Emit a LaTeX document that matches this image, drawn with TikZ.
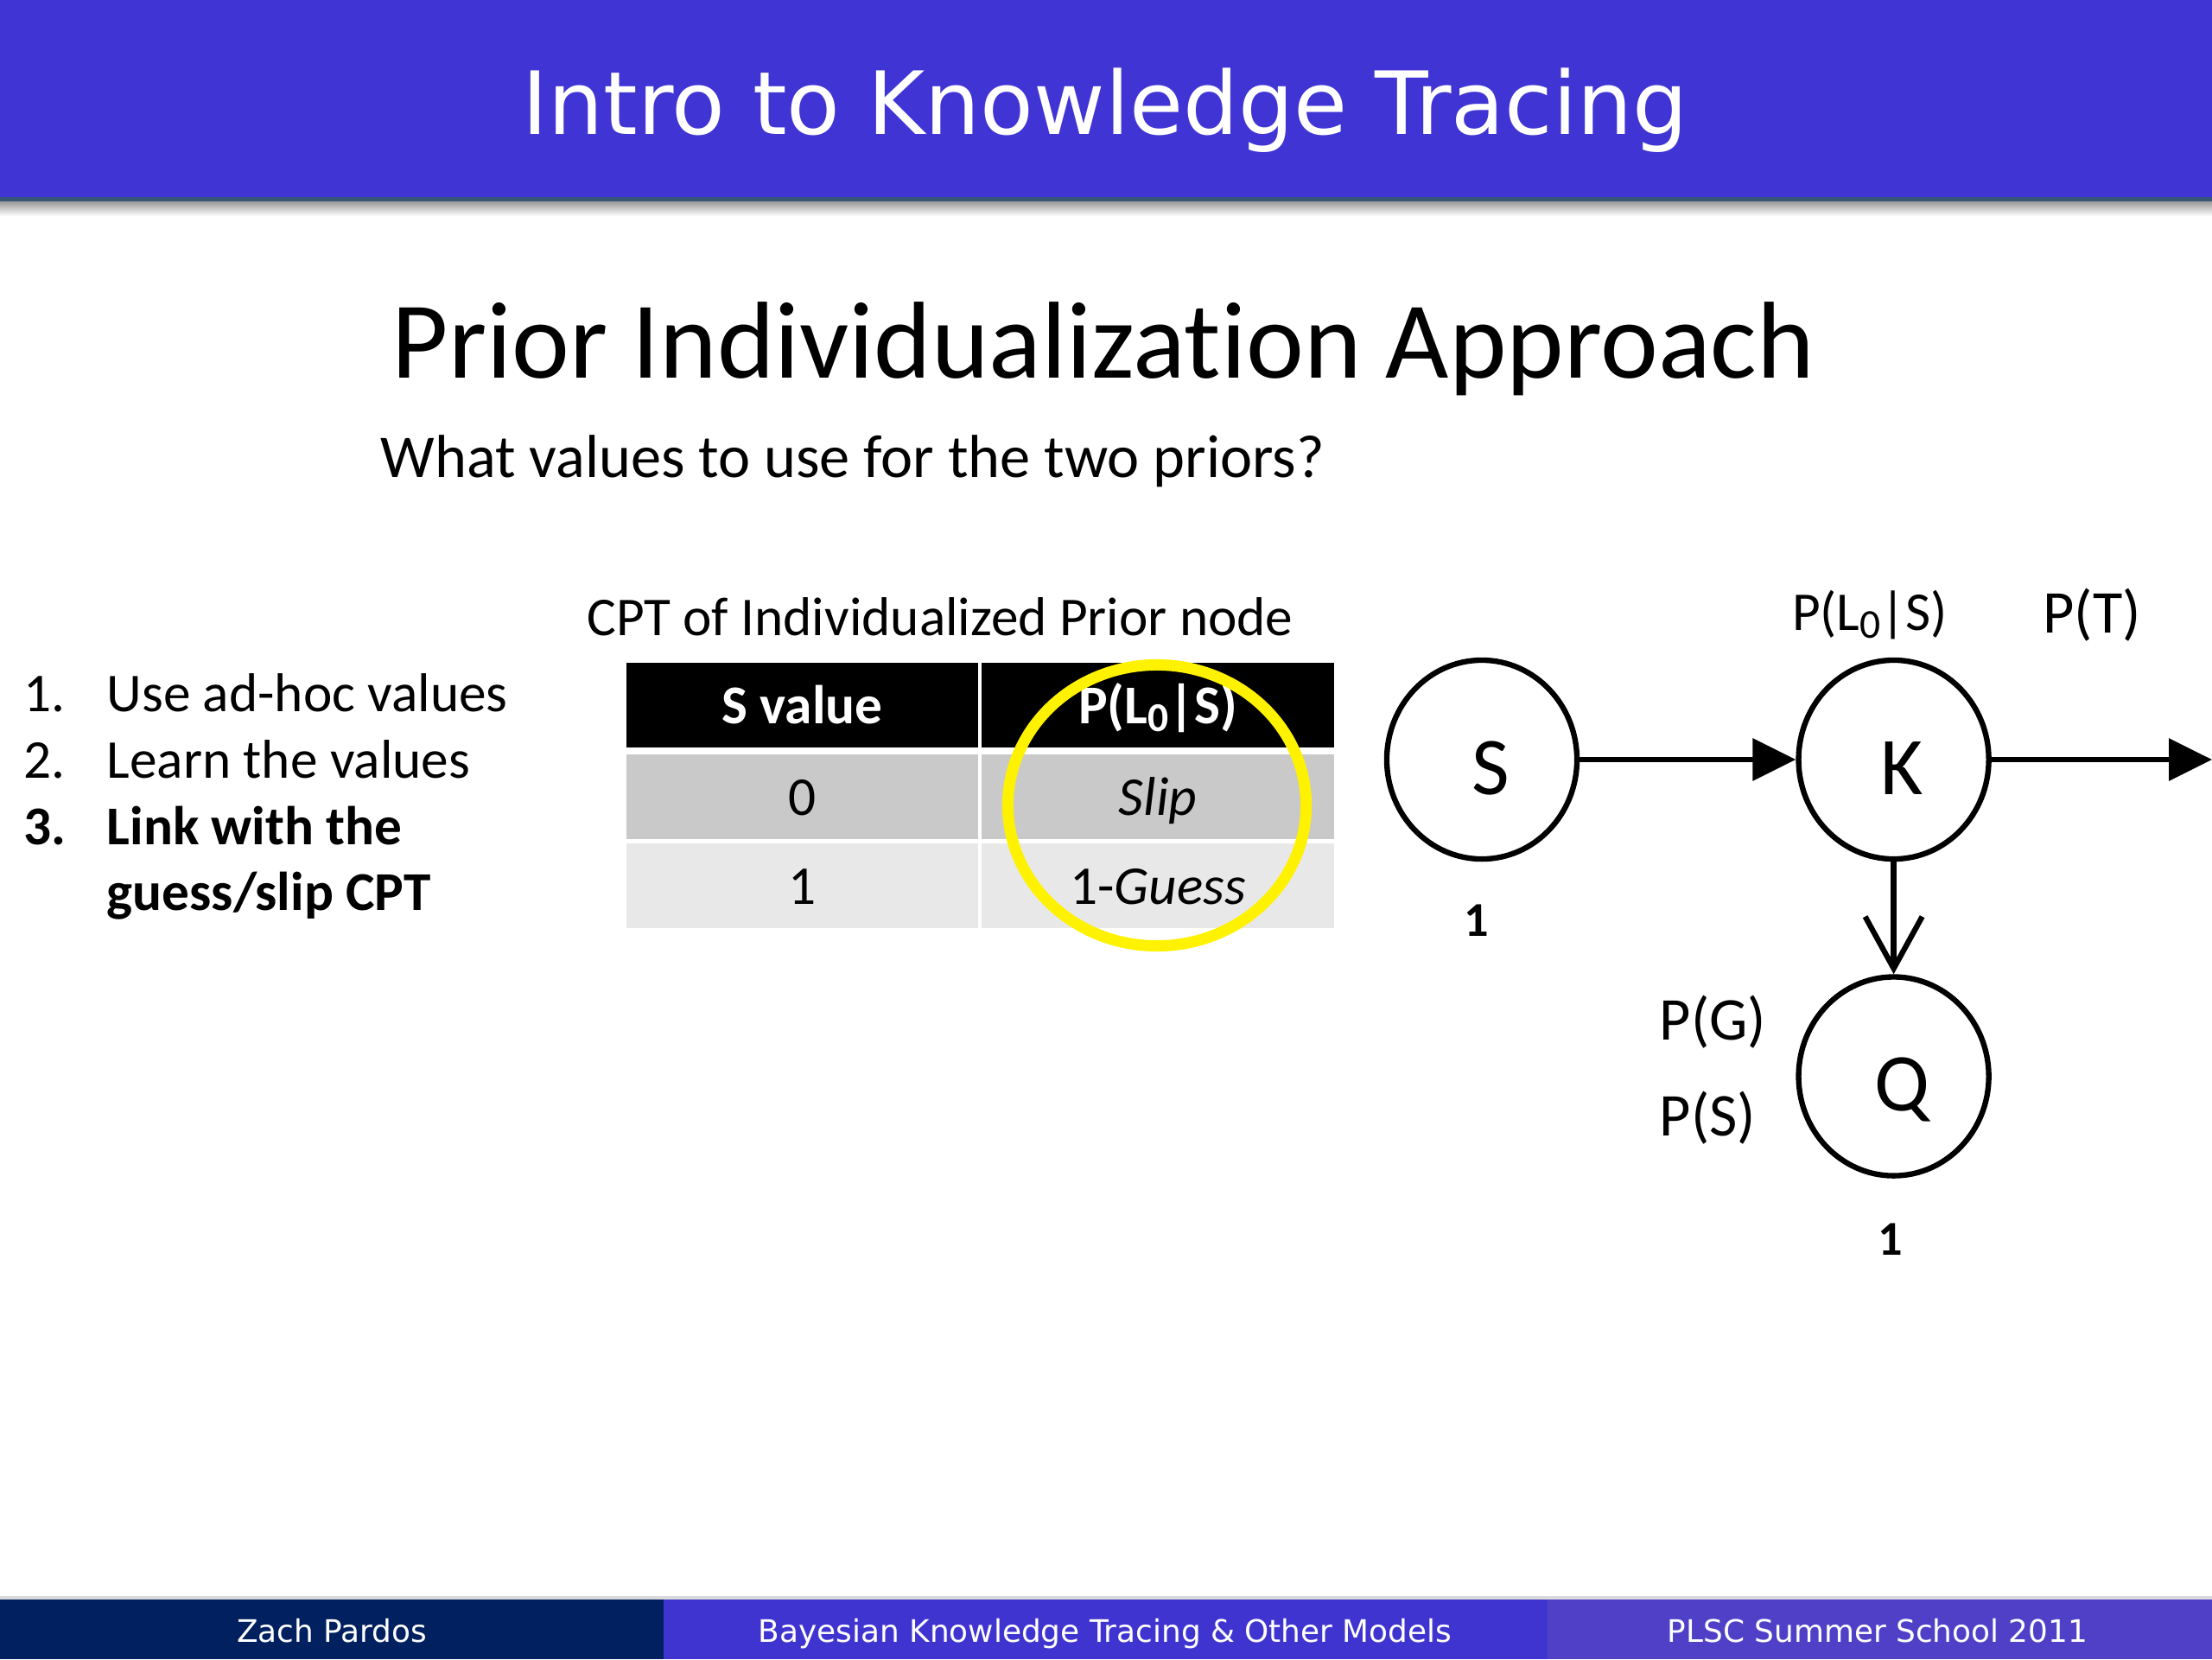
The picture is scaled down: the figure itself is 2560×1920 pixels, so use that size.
\documentclass[tikz,border=0pt]{standalone}
\usepackage{fontspec}
\setmainfont{Carlito}[Ligatures=CommonOff]
\newfontfamily\slidehead{DejaVu Sans}
\usetikzlibrary{arrows.meta,positioning,shapes.geometric}

\definecolor{bandblue}{RGB}{64,53,212}
\definecolor{bandedge}{RGB}{55,85,120}
\definecolor{footnavy}{RGB}{0,32,96}
\definecolor{footblue}{RGB}{64,52,208}
\definecolor{footviolet}{RGB}{80,64,200}
\definecolor{rowdark}{RGB}{201,201,201}
\definecolor{rowlight}{RGB}{232,232,232}

\newcommand\Lzero{L\raisebox{-0.3ex}{\scalebox{0.75}{0}}}

\begin{document}
\begin{tikzpicture}[x=0.01cm,y=-0.01cm,
  txt/.style={inner sep=0pt,anchor=base west,font=\fontsize{18}{21.6}\selectfont},
  cell/.style={inner sep=0pt,minimum width=4.07cm,minimum height=0.98cm,
    text height=0.5cm,text depth=0.08cm,font=\fontsize{18}{21.6}\selectfont},
  bn/.style={draw,ellipse,line width=1.8pt,minimum width=2.2cm,
    minimum height=2.3cm,inner sep=0pt,text height=0.8cm,text depth=0pt,
    execute at begin node=\hspace{0.2cm},
    font=\fontsize{27}{30}\selectfont},
  lbl/.style={inner sep=0pt,anchor=base,font=\fontsize{18}{21.6}\selectfont},
  foot/.style={inner sep=0pt,anchor=base,text=white,
    font=\slidehead\fontsize{10.2}{12}\selectfont}]
  \fill[white] (0,0) rectangle (2560,1920);
  \useasboundingbox (0,0) rectangle (2560,1920);

  % header band
  \fill[bandblue] (0,0) rectangle (2560,230);
  \fill[bandedge] (0,228) rectangle (2560,233);
  \shade[top color=black!40,bottom color=white] (0,233) rectangle (2560,250);
  \node[anchor=base,inner sep=0pt,text=white,
    font=\slidehead\fontsize{28.7}{34}\selectfont] (head) at (1279,155)
    {Intro to Knowledge Tracing};

  \node[anchor=base,inner sep=0pt,font=\fontsize{36}{43}\selectfont] (title)
    at (1277,437) {Prior Individualization Approach};
  \node[txt,font=\fontsize{20}{24}\selectfont] (ask) at (440,552)
    {What values to use for the two priors?};

  % the three options
  \node[txt] (n1) at (27,823) {1.};
  \node[txt] (t1) at (123,823) {Use ad-hoc values};
  \node[txt] (n2) at (27,900) {2.};
  \node[txt] (t2) at (123,900) {Learn the values};
  \node[txt,font=\fontsize{18}{21.6}\selectfont\bfseries] (n3) at (27,977) {3.};
  \node[txt,font=\fontsize{18}{21.6}\selectfont\bfseries] (t3) at (123,977) {Link with the};
  \node[txt,font=\fontsize{18}{21.6}\selectfont\bfseries] (t4) at (123,1053) {guess/slip CPT};

  % CPT
  \node[lbl] (cpt) at (1088,735) {CPT of Individualized Prior node};
  \node[cell,fill=black,text=white,font=\fontsize{18}{21.6}\selectfont\bfseries]
    (h1) at (928.5,816) {S value};
  \node[cell,fill=black,text=white,font=\fontsize{18}{21.6}\selectfont\bfseries]
    (h2) at (1340,816) {P(\Lzero|S)};
  \node[cell,fill=rowdark] (a1) at (928.5,922) {0};
  \node[cell,fill=rowdark] (a2) at (1340,922) {\itshape Slip};
  \node[cell,fill=rowlight] (b1) at (928.5,1025) {1};
  \node[cell,fill=rowlight] (b2) at (1340,1025) {1-\textit{Guess}};
  \node[draw=yellow,line width=3.7pt,ellipse,minimum width=3.45cm,
    minimum height=3.25cm] (hilite) at (1339,932) {};

  % network
  \node[bn] (s) at (1715,879) {S};
  \node[bn,right=2.5cm of s] (k) {K};
  \node[bn,below=1.3cm of k] (q) {Q};
  \coordinate (kout) at (2560,879);
  \draw[-{Triangle[length=0.5cm,width=0.48cm]},line width=1.8pt] (s) -- (k);
  \draw[-{Triangle[length=0.5cm,width=0.48cm]},line width=1.8pt] (k) -- (kout);
  \draw[-{Straight Barb[length=0.6cm,width=0.66cm]},line width=1.8pt] (k) -- (q);

  \node[lbl] (pl) at (2164,729) {P(\Lzero|S)};
  \node[lbl,font=\fontsize{20}{24}\selectfont] (pt) at (2421,732) {P(T)};
  \node[lbl,font=\fontsize{16}{19}\selectfont\bfseries] (ns) at (1709,1083) {1};
  \node[txt,font=\fontsize{20}{24}\selectfont] (pg) at (1920,1203) {P(G)};
  \node[txt,font=\fontsize{20}{24}\selectfont] (ps) at (1920,1314) {P(S)};
  \node[lbl,font=\fontsize{16}{19}\selectfont\bfseries] (nq) at (2188,1452) {1};

  % footer
  \fill[black!15] (0,1847) rectangle (2560,1851);
  \fill[footnavy] (0,1851) rectangle (768,1920);
  \fill[footblue] (768,1851) rectangle (1791,1920);
  \fill[footviolet] (1791,1851) rectangle (2560,1920);
  \node[foot] (fa) at (384,1900) {Zach Pardos};
  \node[foot] (fb) at (1279,1900) {Bayesian Knowledge Tracing \& Other Models};
  \node[foot] (fc) at (2173,1900) {PLSC Summer School 2011};
\end{tikzpicture}
\end{document}
